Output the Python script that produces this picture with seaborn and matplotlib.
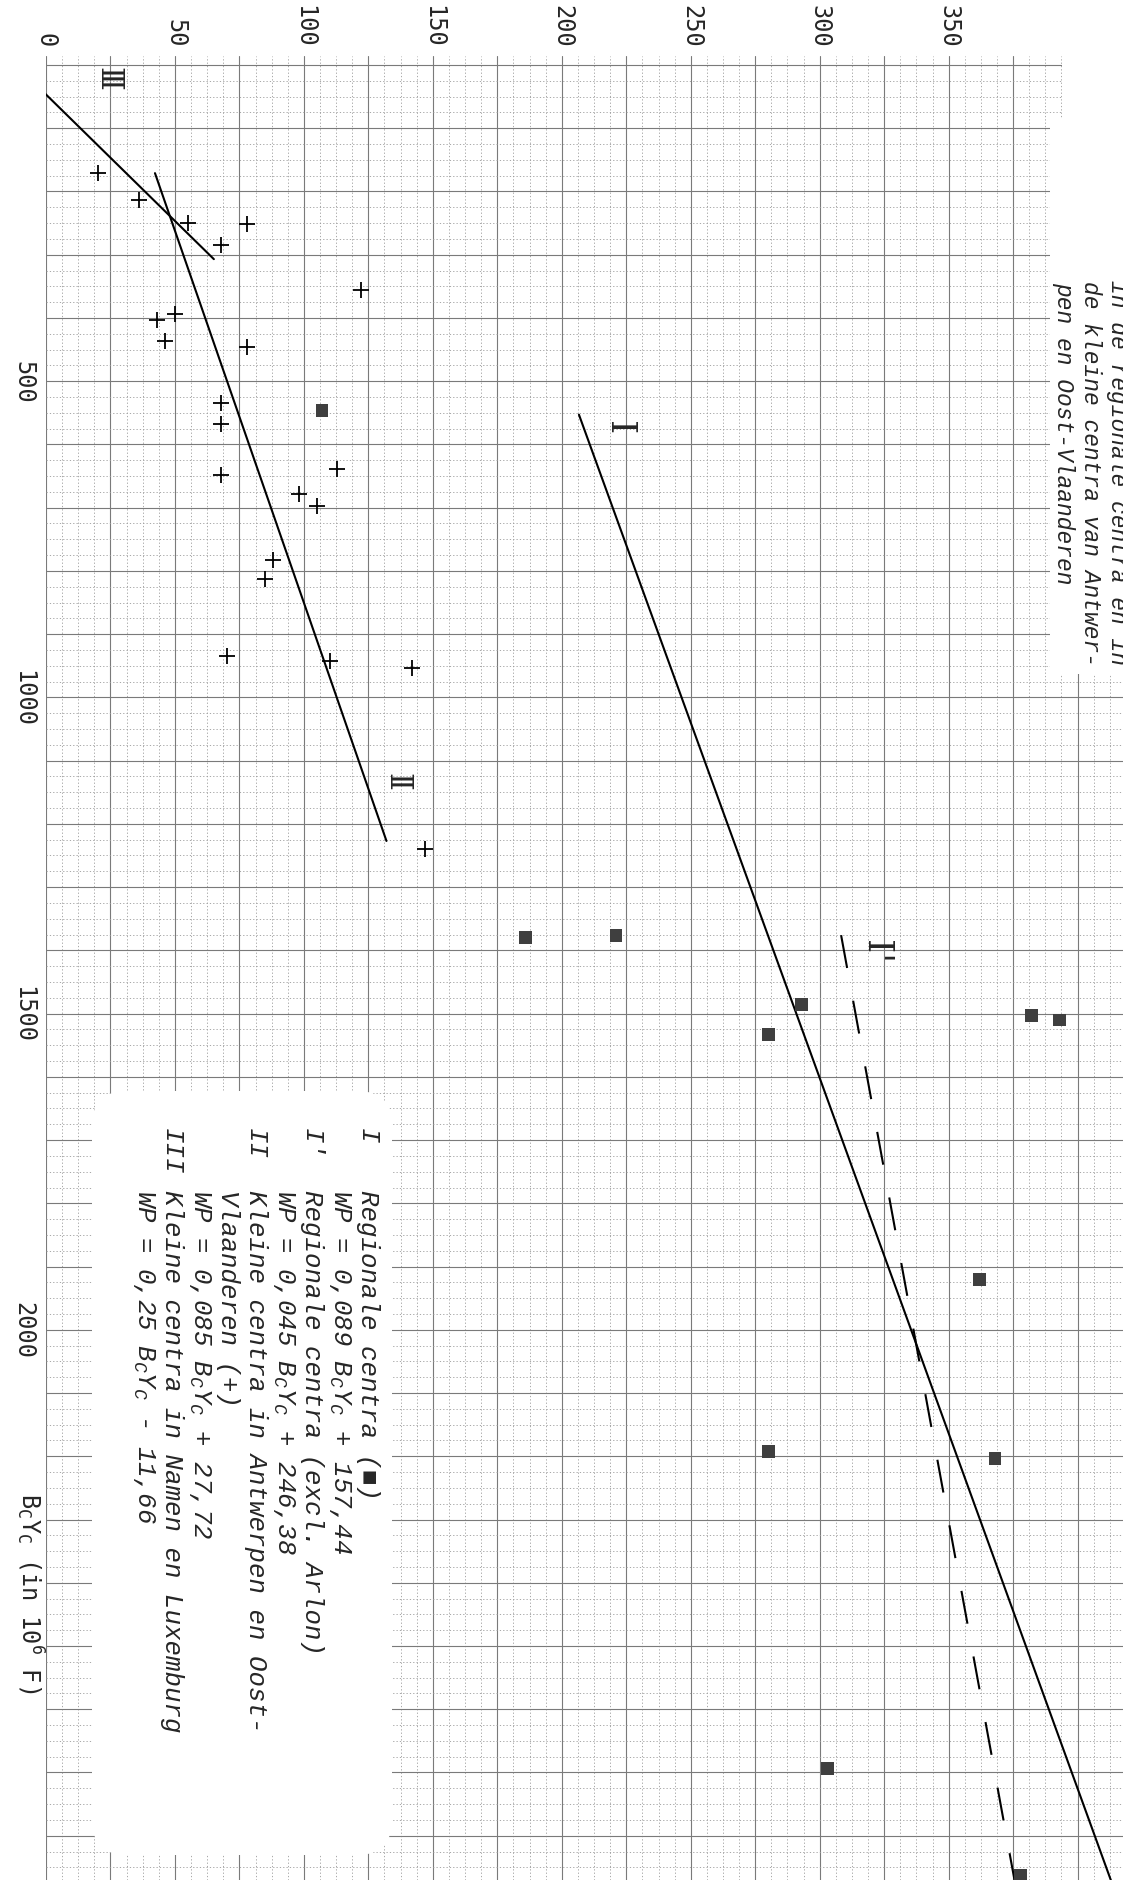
import pandas as pd
import matplotlib
matplotlib.use("Agg")
import matplotlib.pyplot as plt
import seaborn as sns
from matplotlib.ticker import MultipleLocator, FuncFormatter
from matplotlib.patches import FancyBboxPatch, Rectangle

#-------------------
# values
# vertical axis: BcYc (in 10^6 F), horizontal axis: WP
#-------------------

# regionale centra (squares)
reg_by = [546, 1380, 1376, 1533, 1486, 1503, 1510, 1920, 2203, 2192, 2694, 2863]
reg_wp = [107, 186, 221, 280, 293, 382, 393, 362, 368, 280, 303, 378]

# kleine centra (crosses)
kl_by = [171, 213, 250, 285, 252, 355, 393, 404, 436, 446, 535,
         567, 649, 639, 679, 698, 782, 812, 934, 943, 954, 1239]
kl_wp = [20, 36, 55, 68, 78, 122, 50, 43, 46, 78, 68,
         68, 68, 113, 98, 105, 88, 85, 70, 110, 142, 147]

# regression lines WP = slope * BcYc + icpt, drawn between by_from and by_to
line_tag = ["Ⅰ", "Ⅰ'", "Ⅱ", "Ⅲ"]
line_slope = [0.089, 0.045, 0.085, 0.25]
line_icpt = [157.44, 246.38, 27.72, -11.66]
line_by_from = [553, 1376, 171, 38]
line_by_to = [2950, 2950, 1227, 307]
line_dashed = [False, True, False, False]
tag_wp = [222, 322, 136, 24]
tag_by = [573, 1401, 1132, 21]

wp_ticks = [0, 50, 100, 150, 200, 250, 300, 350]
by_ticks = [500, 1000, 1500, 2000]

title_lines = ["in de regionale centra en in",
               "de kleine centra van Antwer-",
               "pen en Oost-Vlaanderen"]

legend_tags = ["I", "I'", "II", "III"]
legend_tag_row = [0, 2, 4, 7]
legend_rows = ["Regionale centra (■)",
               r"WP = 0,089 $\mathregular{B_CY_C}$ + 157,44",
               "Regionale centra (excl. Arlon)",
               r"WP = 0,045 $\mathregular{B_CY_C}$ + 246,38",
               "Kleine centra in Antwerpen en Oost-",
               "Vlaanderen (+)",
               r"WP = 0,085 $\mathregular{B_CY_C}$ + 27,72",
               "Kleine centra in Namen en Luxemburg",
               r"WP = 0,25 $\mathregular{B_CY_C}$ - 11,66"]

#-------------------
# figure
#-------------------
W, H = 1123, 1881

def fx(px):
    return px / W

def fy(py):
    return 1 - py / H

sns.set_theme(style="white")
plt.rcParams["font.family"] = ["DejaVu Sans Mono", "DejaVu Sans"]

fig = plt.figure(figsize=(W / 100, H / 100), dpi=100)
ax = fig.add_axes([fx(46), 0, 1 - fx(46), fy(57)])

# graph paper
ax.set_axisbelow(True)
ax.xaxis.tick_top()
ax.xaxis.set_major_locator(MultipleLocator(25))
ax.xaxis.set_minor_locator(MultipleLocator(6.25))
ax.yaxis.set_major_locator(MultipleLocator(100))
ax.yaxis.set_minor_locator(MultipleLocator(25))
ax.xaxis.set_major_formatter(FuncFormatter(lambda v, p: f"{v:.0f}" if round(v) in wp_ticks else ""))
ax.yaxis.set_major_formatter(FuncFormatter(lambda v, p: f"{v:.0f}" if round(v) in by_ticks else ""))
ax.grid(which="major", color="#7a7a7a", lw=0.8)
ax.grid(which="minor", color="#9a9a9a", lw=0.6, ls=(0, (1.5, 2.5)))
ax.tick_params(axis="both", which="both", length=0)
ax.tick_params(axis="x", labelrotation=-90, pad=7, labelsize=17)
ax.tick_params(axis="y", labelrotation=-90, pad=8, labelsize=17)
for s in ax.spines.values():
    s.set_visible(False)

# blank corner where the caption sits
ax.add_patch(Rectangle((fx(1050), fy(675)), 1 - fx(1050), fy(120) - fy(675),
                       transform=fig.transFigure, fc="white", ec="none", zorder=1))
ax.add_patch(Rectangle((fx(1062), fy(120)), 1 - fx(1062), fy(57) - fy(120),
                       transform=fig.transFigure, fc="white", ec="none", zorder=1))

# points
reg = pd.DataFrame({"wp": reg_wp, "by": reg_by})
kl = pd.DataFrame({"wp": kl_wp, "by": kl_by})
sns.scatterplot(data=reg, x="wp", y="by", marker="s", s=85, color="#3f3f3f",
                edgecolor="none", ax=ax, zorder=5)
sns.scatterplot(data=kl, x="wp", y="by", marker="+", s=130, color="black",
                linewidth=1.3, ax=ax, zorder=5)

# regression lines
for i in range(len(line_tag)):
    by = [line_by_from[i], line_by_to[i]]
    wp = [line_slope[i] * b + line_icpt[i] for b in by]
    ls = (0, (16, 16)) if line_dashed[i] else "-"
    sns.lineplot(x=wp, y=by, sort=False, estimator=None, color="black",
                 lw=1.5, linestyle=ls, ax=ax, zorder=4)
    ax.text(tag_wp[i], tag_by[i], line_tag[i], fontsize=26 if i < 2 else 22, rotation=-90,
            ha="center", va="center", rotation_mode="anchor",
            family=["DejaVu Serif", "DejaVu Sans"], zorder=6)

ax.set_xlim(0, (W - 46) / 2.579)
ax.set_ylim((H - 66) / 0.6324, (57 - 66) / 0.6324)
ax.set_xlabel("")
ax.set_ylabel(r"$\mathregular{B_CY_C}$ (in $\mathregular{10^6}$ F)", fontsize=17,
              rotation=-90, ha="center", va="center")
ax.yaxis.set_label_coords((30 - 46) / (W - 46), (H - 1593) / (H - 57))
plt.setp(ax.get_yticklabels(), va="center")

# legend box
ax.add_patch(FancyBboxPatch((0.92, 0.25), 3.0, 7.64,
                            boxstyle="round,pad=0,rounding_size=0.35",
                            transform=fig.dpi_scale_trans, fc="white", ec="none", zorder=2))
leg_font = dict(family="Liberation Mono", style="italic", fontsize=18.5)
for r, txt in enumerate(legend_rows):
    xc = 368 - 28 * r
    fig.text(fx(xc), fy(1190), txt, rotation=-90, rotation_mode="anchor",
             ha="left", va="center", **leg_font)
for tag, r in zip(legend_tags, legend_tag_row):
    xc = 368 - 28 * r
    fig.text(fx(xc), fy(1128), tag, rotation=-90, rotation_mode="anchor",
             ha="left", va="center", **leg_font)

# caption, cut off at the page edge as in the scan
for k, txt in enumerate(title_lines):
    fig.text(fx(1118 - 27 * k), fy(280 + k), txt, rotation=-90, rotation_mode="anchor",
             ha="left", va="center", family="Liberation Mono",
             style="italic", fontsize=16.5)

fig.savefig("out.png", dpi=100, facecolor="white")
